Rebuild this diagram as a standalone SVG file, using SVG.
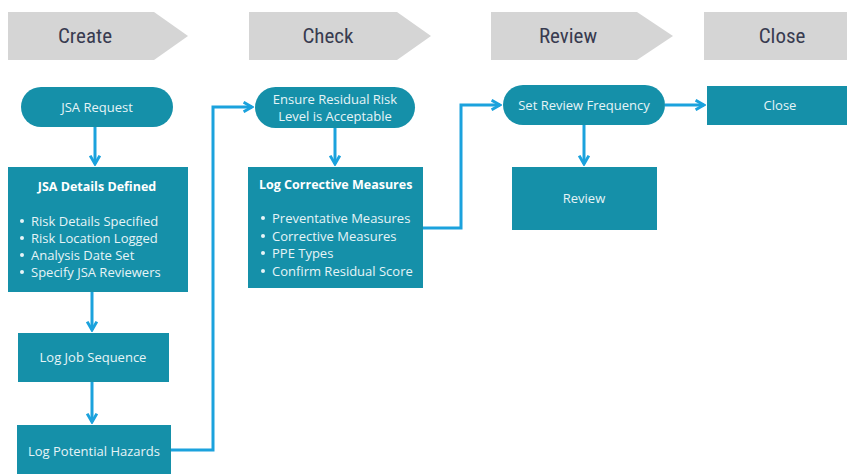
<svg xmlns="http://www.w3.org/2000/svg" width="847" height="474" viewBox="0 0 847 474">
<defs>
<style>
.hdr{fill:#d5d5d5}
.hdrt{font-family:"Roboto Condensed",Roboto,"Open Sans",sans-serif;font-size:21px;fill:#383b50;text-anchor:middle}
.box{fill:#1590a9}
.t{font-family:"Open Sans","Noto Sans",sans-serif;font-size:13px;fill:#e6f4f7;text-anchor:middle}
.tb{font-family:"Open Sans","Noto Sans",sans-serif;font-size:12.5px;font-weight:bold;fill:#ffffff}
.tl{font-family:"Open Sans","Noto Sans",sans-serif;font-size:13px;fill:#e6f4f7}
.dot{fill:#e6f4f7}
.c{fill:none;stroke:#1ba2dd;stroke-width:3;marker-end:url(#ah)}
</style>
<marker id="ah" viewBox="0 0 10 10" refX="8" refY="5" markerWidth="4" markerHeight="4" orient="auto" markerUnits="strokeWidth">
<path d="M1,1 L8,5 L1,9" fill="none" stroke="#1ba2dd" stroke-width="2.4" stroke-linejoin="miter"/>
</marker>
</defs>
<rect width="847" height="474" fill="#ffffff"/>
<g id="headers">
<g id="h-create"><polygon class="hdr" points="8,12 154,12 188,36 154,60 8,60"/><text class="hdrt" x="85" y="43">Create</text></g>
<g id="h-check"><polygon class="hdr" points="249,12 397,12 431,36 397,60 249,60"/><text class="hdrt" x="328" y="43">Check</text></g>
<g id="h-review"><polygon class="hdr" points="491,12 637,12 673,36 637,60 491,60"/><text class="hdrt" x="568" y="43">Review</text></g>
<g id="h-close"><rect class="hdr" x="704" y="12" width="143" height="48"/><text class="hdrt" x="782" y="43">Close</text></g>
</g>
<g id="connectors">
<path class="c" d="M95,127 V164"/>
<path class="c" d="M92,292 V330"/>
<path class="c" d="M92,382 V422"/>
<path class="c" d="M171,450 H213 V107 H252"/>
<path class="c" d="M335,128 V164"/>
<path class="c" d="M423,228 H461 V105 H500"/>
<path class="c" d="M665,105 H704"/>
<path class="c" d="M584,125 V164"/>
</g>
<g id="n-jsa-request"><rect class="box" x="21" y="87" width="152" height="40" rx="20"/><text class="t" x="97" y="111.5">JSA Request</text></g>
<g id="n-jsa-details">
<rect class="box" x="8" y="167" width="180" height="125"/>
<text class="tb" x="97" y="191" text-anchor="middle">JSA Details Defined</text>
<circle class="dot" cx="22" cy="221" r="2"/><text class="tl" x="31" y="225.5">Risk Details Specified</text>
<circle class="dot" cx="22" cy="238" r="2"/><text class="tl" x="31" y="242.5">Risk Location Logged</text>
<circle class="dot" cx="22" cy="255" r="2"/><text class="tl" x="31" y="259.5">Analysis Date Set</text>
<circle class="dot" cx="22" cy="272" r="2"/><text class="tl" x="31" y="276.5">Specify JSA Reviewers</text>
</g>
<g id="n-log-job"><rect class="box" x="18" y="333" width="151" height="49"/><text class="t" x="93" y="362">Log Job Sequence</text></g>
<g id="n-log-hazards"><rect class="box" x="17" y="425" width="154" height="49"/><text class="t" x="94" y="456">Log Potential Hazards</text></g>
<g id="n-ensure"><rect class="box" x="255" y="87" width="160" height="41" rx="20.5"/><text class="t" x="335" y="104">Ensure Residual Risk</text><text class="t" x="335" y="121">Level is Acceptable</text></g>
<g id="n-log-corrective">
<rect class="box" x="248" y="167" width="175" height="121"/>
<text class="tb" x="259" y="189">Log Corrective Measures</text>
<circle class="dot" cx="263" cy="218" r="2"/><text class="tl" x="272" y="222.5">Preventative Measures</text>
<circle class="dot" cx="263" cy="236" r="2"/><text class="tl" x="272" y="240.5">Corrective Measures</text>
<circle class="dot" cx="263" cy="253" r="2"/><text class="tl" x="272" y="257.5">PPE Types</text>
<circle class="dot" cx="263" cy="271" r="2"/><text class="tl" x="272" y="275.5">Confirm Residual Score</text>
</g>
<g id="n-set-review"><rect class="box" x="503" y="85" width="162" height="40" rx="20"/><text class="t" x="584" y="109.5">Set Review Frequency</text></g>
<g id="n-close"><rect class="box" x="707" y="86" width="140" height="39"/><text class="t" x="780" y="110">Close</text></g>
<g id="n-review"><rect class="box" x="512" y="167" width="145" height="63"/><text class="t" x="584" y="203">Review</text></g>
</svg>
